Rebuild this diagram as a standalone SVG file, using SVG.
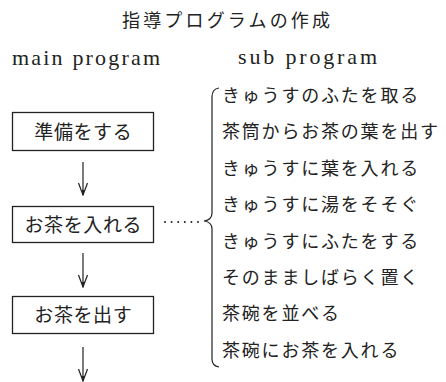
<svg xmlns="http://www.w3.org/2000/svg" width="446" height="382" viewBox="0 0 446 382">
<style>
.bg{fill:#fff}
.box{fill:none;stroke:#222;stroke-width:1.3}
.jp{font-family:"Noto Sans CJK JP","Noto Sans CJK SC",sans-serif;fill:#222}
.en{font-family:"Liberation Serif",serif;fill:#222;font-size:22px}
.item{font-size:18px;letter-spacing:1.8px}
.btxt{font-size:19px;letter-spacing:0.6px;text-anchor:middle}
.ln{fill:none;stroke:#222;stroke-width:1.2}
</style>
<defs>
<marker id="ah" markerWidth="14" markerHeight="10" refX="13" refY="5" orient="auto" markerUnits="userSpaceOnUse" viewBox="0 0 14 10">
<path d="M1 0.5 L13 5 L1 9.5" fill="none" stroke="#222" stroke-width="1.2"/>
<path d="M8 3.5 L13 5 L8 6.5 Z" fill="#222"/>
</marker>
</defs>
<rect class="bg" width="446" height="382"/>
<text class="jp" x="122" y="27" font-size="18" textLength="208" lengthAdjust="spacing">指導プログラムの作成</text>
<text class="en" x="12" y="65" textLength="148" lengthAdjust="spacing">main program</text>
<text class="en" x="238" y="64" textLength="139" lengthAdjust="spacing">sub program</text>
<g id="n1"><rect class="box" x="12.5" y="112.5" width="141" height="38"/><text class="jp btxt" x="83.3" y="139">準備をする</text></g>
<g id="n2"><rect class="box" x="12.5" y="206.5" width="141" height="36"/><text class="jp btxt" x="83.3" y="232">お茶を入れる</text></g>
<g id="n3"><rect class="box" x="12.5" y="296.5" width="141" height="37"/><text class="jp btxt" x="83.3" y="322">お茶を出す</text></g>
<g id="sub">
<path class="ln" d="M219 88 Q212 89 212 97 L212 213 Q212 220 204 221 Q212 222 212 229 L212 359 Q212 366 219 367"/>
<text class="jp item" x="222" y="102">きゅうすのふたを取る</text>
<text class="jp item" x="222" y="138.4">茶筒からお茶の葉を出す</text>
<text class="jp item" x="222" y="174.8">きゅうすに葉を入れる</text>
<text class="jp item" x="222" y="211.2">きゅうすに湯をそそぐ</text>
<text class="jp item" x="222" y="247.6">きゅうすにふたをする</text>
<text class="jp item" x="222" y="284">そのまましばらく置く</text>
<text class="jp item" x="222" y="320.4">茶碗を並べる</text>
<text class="jp item" x="222" y="356.8">茶碗にお茶を入れる</text>
</g>
<g id="connectors">
<line class="ln" x1="83" y1="162" x2="83" y2="195" marker-end="url(#ah)"/>
<line class="ln" x1="83" y1="253" x2="83" y2="287" marker-end="url(#ah)"/>
<line class="ln" x1="83" y1="347" x2="83" y2="381" marker-end="url(#ah)"/>
<line x1="165" y1="222" x2="198" y2="222" stroke="#222" stroke-width="2" stroke-linecap="round" stroke-dasharray="0 6.6"/>
</g>
</svg>
